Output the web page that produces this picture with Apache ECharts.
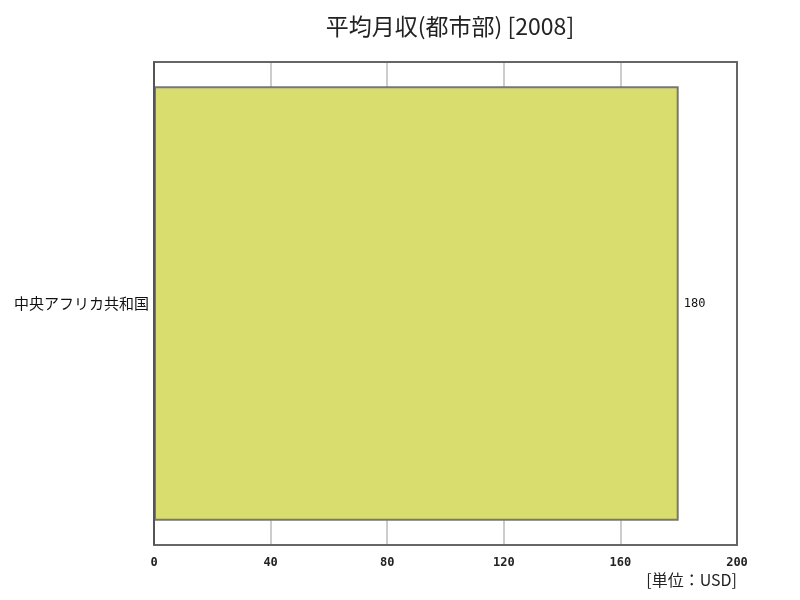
<!DOCTYPE html>
<html>
<head>
<meta charset="utf-8">
<title>平均月収(都市部)</title>
<script src="https://cdn.jsdelivr.net/npm/echarts@6/dist/echarts.min.js"></script>
<style>body{margin:0}#main{width:800px;height:600px}</style>
</head>
<body>
<div id="main"></div>
<script>
var categories = ['中央アフリカ共和国'];
var values = [180];
var xTicks = [0, 40, 80, 120, 160, 200];

var font = '"Noto Sans CJK JP", sans-serif';
var chart = echarts.init(document.getElementById('main'));
chart.setOption({
    backgroundColor: '#fff',
    animation: false,
    title: {
        text: '平均月収(都市部) [2008]',
        left: 445,
        top: 10,
        textAlign: 'center',
        textStyle: { fontFamily: font, fontSize: 23, fontWeight: 'normal', color: '#222' }
    },
    grid: { left: 154, right: 63, top: 62, bottom: 55 },
    xAxis: {
        type: 'value',
        min: xTicks[0],
        max: xTicks[xTicks.length - 1],
        interval: 40,
        position: 'bottom',
        axisLine: { show: false },
        axisTick: { show: false },
        axisLabel: { color: '#222', fontSize: 12, fontFamily: 'DejaVu Sans Mono', fontWeight: 'bold', margin: 12 },
        splitLine: { show: true, lineStyle: { color: '#bbb', width: 1.5 } }
    },
    yAxis: {
        type: 'category',
        data: categories,
        axisLine: { show: false },
        axisTick: { show: false },
        axisLabel: { color: '#111', fontSize: 15, fontFamily: font, margin: 5 }
    },
    series: [{
        type: 'bar',
        data: values,
        barCategoryGap: '10%',
        itemStyle: { color: '#d8dd6e', borderColor: '#777', borderWidth: 2 },
        label: { show: true, position: 'right', distance: 5, color: '#111', fontSize: 12, fontFamily: 'DejaVu Sans Mono' }
    }],
    graphic: [
        { type: 'rect', z: 100, shape: { x: 154, y: 62, width: 583, height: 483 }, style: { fill: 'none', stroke: '#666', lineWidth: 2 }, silent: true },
        { type: 'line', z: 101, shape: { x1: 154, y1: 62, x2: 154, y2: 545 }, style: { stroke: '#555', lineWidth: 2 }, silent: true },
        { type: 'text', right: 63, top: 572, style: { text: '[単位：USD]', font: '16px ' + font, fill: '#222' } }
    ]
});
</script>
</body>
</html>
